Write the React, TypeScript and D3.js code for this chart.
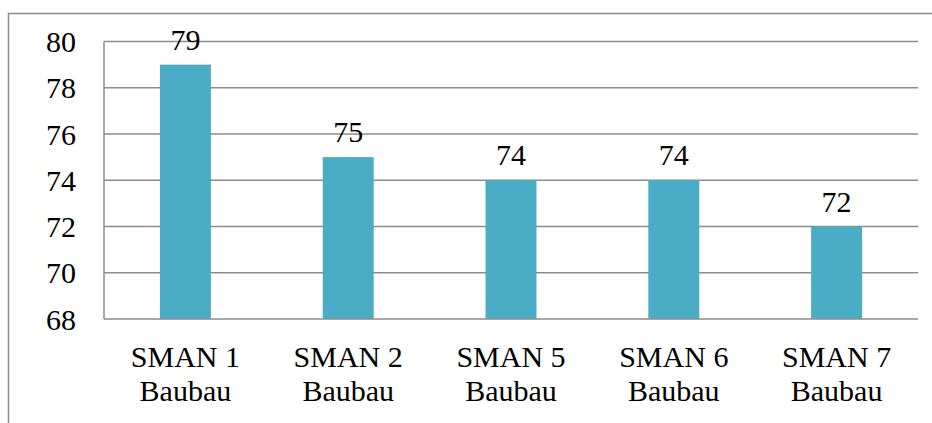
import React from "react";
import * as d3 from "d3";

const categories = ["SMAN 1|Baubau", "SMAN 2|Baubau", "SMAN 5|Baubau", "SMAN 6|Baubau", "SMAN 7|Baubau"];
const values = [79, 75, 74, 74, 72];
const yTicks = [68, 70, 72, 74, 76, 78, 80];

export default function App() {
  const W = 932, H = 423;
  const left = 104, right = 918, top = 41.5, bottom = 319;
  const x = d3.scaleBand<string>().domain(categories).range([left, right]).paddingInner(0).paddingOuter(0);
  const y = d3.scaleLinear().domain([68, 80]).range([bottom, top]);
  const bw = 51;
  const font = "Times New Roman, Liberation Serif, Tinos, DejaVu Serif, serif";
  return (
    <svg width={W} height={H} style={{ position: "absolute", left: 0, top: 0 }}>
      <rect x={0} y={0} width={W} height={H} fill="#fff" />
      <path d={`M8.5,${H} L8.5,13.5 L${W},13.5`} fill="none" stroke="#8c8c8c" strokeWidth={1.5} />
      {yTicks.map((t) => (
        <g key={t}>
          {t !== 68 && <line x1={left} x2={right} y1={y(t)} y2={y(t)} stroke="#8c8c8c" strokeWidth={1.5} />}
          <text x={76} y={y(t)} dy="0.35em" textAnchor="end" fontFamily={font} fontSize={30} fill="#000">{t}</text>
        </g>
      ))}
      {categories.map((c, i) => {
        const cx = (x(c) as number) + x.bandwidth() / 2;
        return (
          <g key={c}>
            <rect x={cx - bw / 2} y={y(values[i])} width={bw} height={bottom - y(values[i])} fill="#4BACC6" />
            <text x={cx} y={y(values[i]) - 15} textAnchor="middle" fontFamily={font} fontSize={30} fill="#000">{values[i]}</text>
            {c.split("|").map((part, j) => (
              <text key={j} x={cx} y={367 + j * 34} textAnchor="middle" fontFamily={font} fontSize={30} fill="#000">{part}</text>
            ))}
          </g>
        );
      })}
      <line x1={left} x2={left} y1={top} y2={bottom} stroke="#8c8c8c" strokeWidth={1.5} />
      <line x1={left} x2={right} y1={bottom} y2={bottom} stroke="#8c8c8c" strokeWidth={1.5} />
    </svg>
  );
}
